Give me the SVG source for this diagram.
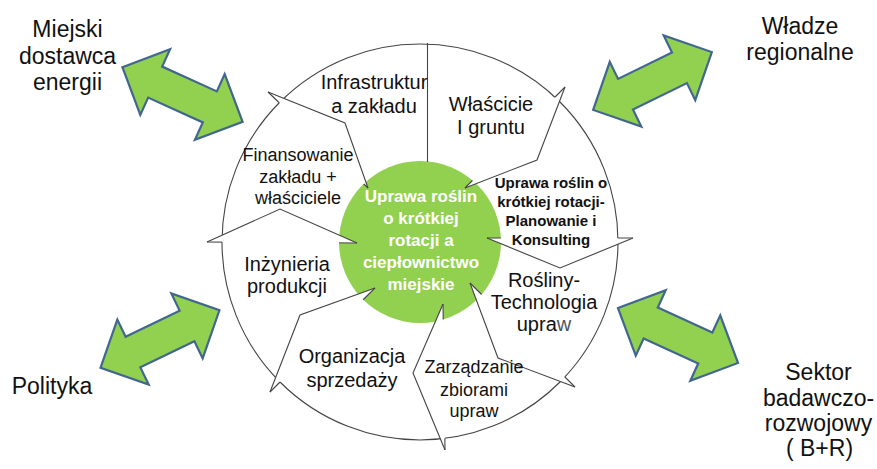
<svg xmlns="http://www.w3.org/2000/svg" width="877" height="469" viewBox="0 0 877 469">
<style>
 .lbl{font-family:"Liberation Sans",Arial,sans-serif;fill:#111;text-anchor:middle}
 .s20{font-size:20px}
 .s18{font-size:18px}
 .out{font-size:23px}
 .plan{font-size:15px;font-weight:bold}
 .hubt{font-family:"Liberation Sans",Arial,sans-serif;font-weight:bold;font-size:17px;fill:#fff;text-anchor:middle}
 .ring{fill:#fff;stroke:#444;stroke-width:1.1}
 .hubc{fill:#92D050;stroke:none}
 .head{fill:#fff;stroke:none}
 .edge{fill:none;stroke:#444;stroke-width:1.1;stroke-linejoin:miter}
 .dbl{fill:#92D050;stroke:#41668F;stroke-width:2.2;stroke-linejoin:miter}
</style>
<defs>
 <path id="dblArrow" d="M -66 0 L -30 -36 L -30 -17 L 30 -17 L 30 -36 L 66 0 L 30 36 L 30 17 L -30 17 L -30 36 Z"/>
 <mask id="outsideBand" maskUnits="userSpaceOnUse" x="0" y="0" width="877" height="469">
  <rect x="0" y="0" width="877" height="469" fill="#fff"/>
  <circle cx="420" cy="242" r="198" fill="#000"/>
  <circle cx="420" cy="242" r="81" fill="#fff"/>
 </mask>
</defs>

<g id="ring">
 <circle class="ring" cx="420" cy="242" r="198"/>
</g>

<g id="hub">
 <circle class="hubc" cx="420" cy="242" r="81"/>
 <text class="hubt" x="421" y="202">Uprawa roślin</text>
 <text class="hubt" x="421" y="224">o krótkiej</text>
 <text class="hubt" x="421" y="246">rotacji a</text>
 <text class="hubt" x="421" y="268">ciepłownictwo</text>
 <text class="hubt" x="421" y="290">miejskie</text>
</g>

<g id="connectors">
 <g id="cycle-heads">
  <path class="head" d="M268,92 L345,123 L368,188 Z"/>
  <path class="head" d="M207,242 L280,209 L357,243 Z"/>
  <path class="head" d="M270,392 L300,315 L375,288 Z"/>
  <path class="head" d="M445,450 L413,373 L443,304 Z"/>
  <path class="head" d="M575,387 L498,358 L470,283 Z"/>
  <path class="head" d="M633,238 L560,268 L487,238 Z"/>
  <path class="head" d="M565,87 L537,160 L465,188 Z"/>
 </g>
 <g id="cycle-edges">
  <path class="edge" d="M268,92 L345,123 L368,188"/>
  <path class="edge" d="M207,242 L280,209 L357,243"/>
  <path class="edge" d="M270,392 L300,315 L375,288"/>
  <path class="edge" d="M445,450 L413,373 L443,304"/>
  <path class="edge" d="M575,387 L498,358 L470,283"/>
  <path class="edge" d="M633,238 L560,268 L487,238"/>
  <path class="edge" d="M565,87 L537,160 L465,188"/>
  <path class="edge" d="M427.5,43 L427.5,162"/>
 </g>
 <g id="cycle-bases" mask="url(#outsideBand)">
  <path class="edge" d="M268,92 L368,188 M207,242 L357,243 M270,392 L375,288 M445,450 L443,304 M575,387 L470,283 M633,238 L487,238 M565,87 L465,188"/>
 </g>
 <g id="double-arrows">
  <use href="#dblArrow" class="dbl" transform="translate(182.5,94.5) rotate(24.4)"/>
  <use href="#dblArrow" class="dbl" transform="translate(652.5,81) rotate(-26)"/>
  <use href="#dblArrow" class="dbl" transform="translate(160,339) rotate(-25.8)"/>
  <use href="#dblArrow" class="dbl" transform="translate(678,335.5) rotate(24.6)"/>
 </g>
</g>

<g id="infrastruktura">
 <text class="lbl s20" x="374" y="89">Infrastruktur</text>
 <text class="lbl s20" x="374" y="113">a zakładu</text>
</g>
<g id="wlasciciele">
 <text class="lbl s20" x="491" y="111">Właścicie</text>
 <text class="lbl s20" x="491" y="134">I gruntu</text>
</g>
<g id="planowanie">
 <text class="lbl plan" x="551" y="188">Uprawa roślin o</text>
 <text class="lbl plan" x="551" y="207">krótkiej rotacji-</text>
 <text class="lbl plan" x="551" y="226">Planowanie i</text>
 <text class="lbl plan" x="551" y="245">Konsulting</text>
</g>
<g id="rosliny">
 <text class="lbl s20" x="544" y="287">Rośliny-</text>
 <text class="lbl s20" x="544" y="309">Technologia</text>
 <text class="lbl s20" x="544" y="331">upra<tspan fill="#4d5566">w</tspan></text>
</g>
<g id="zarzadzanie">
 <text class="lbl s18" x="474" y="373">Zarządzanie</text>
 <text class="lbl s18" x="474" y="396">zbiorami</text>
 <text class="lbl s18" x="474" y="417">upraw</text>
</g>
<g id="organizacja">
 <text class="lbl s20" x="352" y="363">Organizacja</text>
 <text class="lbl s20" x="352" y="387">sprzedaży</text>
</g>
<g id="inzynieria">
 <text class="lbl s20" x="287" y="271">Inżynieria</text>
 <text class="lbl s20" x="287" y="293">produkcji</text>
</g>
<g id="finansowanie">
 <text class="lbl s18" x="298" y="161">Finansowanie</text>
 <text class="lbl s18" x="298" y="183">zakładu +</text>
 <text class="lbl s18" x="298" y="204">właściciele</text>
</g>

<g id="dostawca">
 <text class="lbl out" x="67.5" y="37">Miejski</text>
 <text class="lbl out" x="67.5" y="63.5">dostawca</text>
 <text class="lbl out" x="67.5" y="90">energii</text>
</g>
<g id="wladze">
 <text class="lbl out" x="800" y="33.5">Władze</text>
 <text class="lbl out" x="800" y="59.5">regionalne</text>
</g>
<g id="polityka">
 <text class="lbl out" x="52" y="393.5">Polityka</text>
</g>
<g id="sektor">
 <text class="lbl out" x="818.5" y="380">Sektor</text>
 <text class="lbl out" x="818.5" y="405.5">badawczo-</text>
 <text class="lbl out" x="818.5" y="431">rozwojowy</text>
 <text class="lbl out" x="819.5" y="456">( B+R)</text>
</g>
</svg>
